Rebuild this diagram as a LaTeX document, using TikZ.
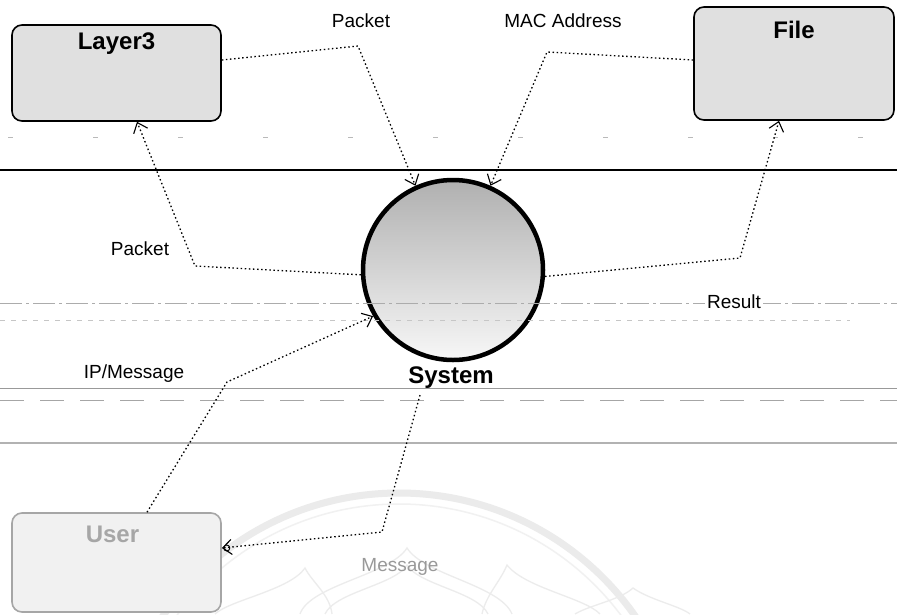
\documentclass[tikz,border=0pt]{standalone}
\usepackage{fontspec}
\setmainfont{Liberation Sans}
\usetikzlibrary{arrows.meta,calc}
\begin{document}
\begin{tikzpicture}[x=1pt,y=-1pt,
  entity/.style={draw=black, line width=1.6pt, rounded corners=10pt,
                 fill=gray!24, inner sep=0pt},
  faded/.style={draw=gray!70, fill=gray!11},
  title/.style={font=\fontsize{24}{26}\selectfont\bfseries, inner sep=1pt},
  flowlabel/.style={font=\fontsize{19}{21}\selectfont, inner sep=1pt},
  conn/.style={draw=black, line width=1.3pt, dash pattern=on 1.5pt off 2.6pt,
               -{Straight Barb[length=9pt,width=15pt,line width=1.1pt]}},
  lane/.style={line width=0.8pt},
  petal/.style={draw=gray!15, line width=1.3pt}
]
\useasboundingbox (0,0) rectangle (897,614);
\fill[white] (0,0) rectangle (897,614);

% faint emblem in the lower part of the page
\begin{scope}
  \clip (0,0) rectangle (897,614);
  \draw[gray!16, line width=7pt] (399,781) circle[radius=288];
  \draw[gray!11, line width=1.5pt] (399,781) circle[radius=277];
  % lotus petals
  \draw[petal] (300,614) .. controls (310,585) and (390,575) .. (407,548)
              .. controls (424,575) and (500,585) .. (512,614);
  \draw[petal] (325,614) .. controls (335,592) and (395,585) .. (407,565)
              .. controls (419,585) and (478,592) .. (488,614);
  \draw[petal] (215,614) .. controls (230,600) and (290,590) .. (305,568)
              .. controls (312,582) and (330,595) .. (332,614);
  \draw[petal] (482,614) .. controls (486,595) and (500,582) .. (507,565)
              .. controls (525,588) and (585,598) .. (600,614);
  \draw[petal] (575,614) .. controls (590,605) and (620,600) .. (633,588)
              .. controls (650,600) and (680,606) .. (690,614);
\end{scope}

% swim-lane separators
\draw[lane, gray!55, dash pattern=on 5pt off 80pt] (8,137) -- (897,137);
\draw[line width=1.4pt, black] (0,170) -- (897,170);
\draw[lane, gray!80] (0,388) -- (897,388);
\draw[lane, gray!70, dash pattern=on 24pt off 16pt] (0,400) -- (897,400);
\draw[line width=1.5pt, gray!60] (0,443) -- (897,443);

% entities
\node[entity, minimum width=209pt, minimum height=96pt] (layer3) at (116.5,73) {};
\node[entity, minimum width=200pt, minimum height=113pt] (file) at (794,63.5) {};
\node[entity, faded, minimum width=209pt, minimum height=99pt] (user) at (116.5,562.5) {};
\node[title] (layer3t) at ([yshift=-19pt]layer3.north) {Layer3};
\node[title] (filet) at ([yshift=-24pt]file.north) {File};
\node[title, text=gray!70] (usert) at ([xshift=-4pt,yshift=-22pt]user.north) {User};

% process
\node[circle, minimum size=180pt, inner sep=0pt, draw=black, line width=4.5pt,
      top color=gray!62, bottom color=gray!6] (sys) at (453,270) {};
\node[title] (syst) at (451,378) {System};

% lane lines that run through the process
\draw[lane, gray!65, dash pattern=on 22pt off 4pt on 3pt off 4pt] (0,303) -- (897,303);
\draw[lane, gray!45, dash pattern=on 5pt off 6pt] (0,320) -- (850,320);

% data flows
\coordinate (b1) at (358,46);
\coordinate (b2) at (547,52);
\coordinate (b3) at (195,266);
\coordinate (b4) at (740,258);
\coordinate (b5) at (227,382);
\coordinate (b6) at (382,532);

\draw[conn] ([yshift=13pt]layer3.east) -- (b1) -- (sys.114);
\draw[conn] ([yshift=3.5pt]file.west) -- (b2) -- (sys.66);
\draw[conn] (sys.183) -- (b3) -- ([xshift=20.5pt]layer3.south);
\draw[conn] (sys.356) -- (b4) -- ([xshift=-15pt]file.south);
\draw[conn] ([xshift=30.5pt]user.north) -- (b5) -- (sys.210);
\draw[conn] ([xshift=-31pt,yshift=-5pt]syst.south) -- (b6)
            -- ([yshift=14.5pt]user.east);
\draw[line width=0.9pt] ([yshift=14.5pt,xshift=5pt]user.east) circle[radius=3pt];

% flow labels
\node[flowlabel] (lpk1) at (361,21) {Packet};
\node[flowlabel] (lmac) at (563,21) {MAC Address};
\node[flowlabel] (lpk2) at (140,249) {Packet};
\node[flowlabel] (lip) at (134,374) {IP/Message};
\node[flowlabel, fill=white, inner sep=2pt] (lres) at (734,302) {Result};
\node[flowlabel, text=gray!80] (lmsg) at (400,567) {Message};
\end{tikzpicture}
\end{document}
